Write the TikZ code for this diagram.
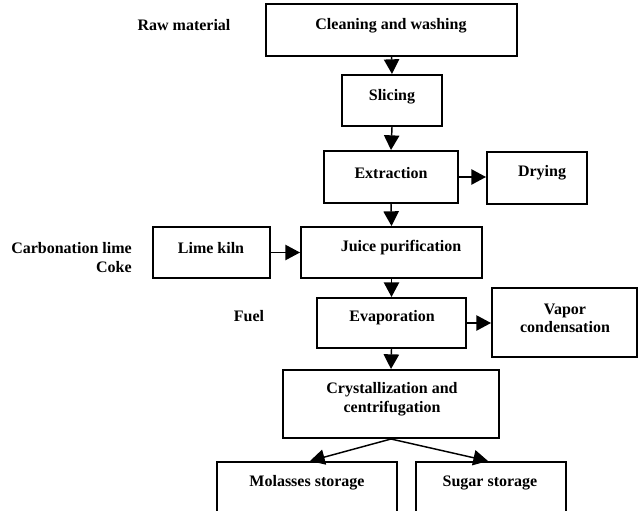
\documentclass[tikz,border=0pt]{standalone}
\usepackage{fontspec}
\setmainfont{Liberation Serif}
\usetikzlibrary{arrows.meta}
\begin{document}
\begin{tikzpicture}[x=0.75pt,y=-0.75pt,
  box/.style={draw,line width=1.5pt,rectangle,inner sep=0pt},
  lbl/.style={font=\fontsize{12}{14}\selectfont\bfseries,inner sep=0pt,align=center},
  arr/.style={line width=1.1pt,-{Triangle[length=11pt,width=11.5pt]}}]
\useasboundingbox (0,0) rectangle (638,510);
\clip (0,0) rectangle (638,510);
% boxes
\node[box,minimum width=251*0.75pt,minimum height=52*0.75pt] (clean) at (391.5,30) {};
\node[box,minimum width=100*0.75pt,minimum height=51*0.75pt] (slice) at (392,100.5) {};
\node[box,minimum width=134*0.75pt,minimum height=52*0.75pt] (extr) at (391,177) {};
\node[box,minimum width=100*0.75pt,minimum height=52*0.75pt] (dry) at (537,178) {};
\node[box,minimum width=181*0.75pt,minimum height=51*0.75pt] (juice) at (391.5,252.5) {};
\node[box,minimum width=117*0.75pt,minimum height=51*0.75pt] (kiln) at (211.5,252.5) {};
\node[box,minimum width=149*0.75pt,minimum height=50*0.75pt] (evap) at (391.5,323) {};
\node[box,minimum width=145*0.75pt,minimum height=69*0.75pt] (vap) at (564.5,322.5) {};
\node[box,minimum width=216*0.75pt,minimum height=68*0.75pt] (cry) at (391,404) {};
\node[box,minimum width=180*0.75pt,minimum height=70*0.75pt] (mol) at (307,497) {};
\node[box,minimum width=150*0.75pt,minimum height=70*0.75pt] (sug) at (491,497) {};
% texts in boxes
\node[lbl] (tclean) at (391,26) {Cleaning and washing};
\node[lbl] (tslice) at (392,97) {Slicing};
\node[lbl] (textr) at (391,173) {Extraction};
\node[lbl] (tdry) at (542,173) {Drying};
\node[lbl] (tjuice) at (401,248) {Juice purification};
\node[lbl] (tkiln) at (211,248) {Lime kiln};
\node[lbl] (tevap) at (392,318) {Evaporation};
\node[lbl] (tvap) at (565,318.5) {Vapor\\condensation};
\node[lbl] (tcry) at (392,399) {Crystallization and\\centrifugation};
\node[lbl] (tmol) at (307,483) {Molasses storage};
\node[lbl] (tsug) at (490,483) {Sugar storage};
% free labels
\node[lbl] (raw) at (184,25) {Raw material};
\node[lbl,align=right,anchor=east] (carb) at (132,257.5) {Carbonation lime\\Coke};
\node[lbl] (fuel) at (249,316) {Fuel};
% arrows
\draw[arr] (clean.south) -- (slice.north);
\draw[arr] (slice.south) -- (extr.north);
\draw[arr] (extr.south) -- (juice.north);
\draw[arr] (juice.south) -- (evap.north);
\draw[arr] (evap.south) -- (cry.north);
\draw[arr] (extr.east) -- (extr.east -| dry.west);
\draw[arr] (kiln.east) -- (juice.west);
\draw[arr] (evap.east) -- (evap.east -| vap.west);
\draw[arr] (cry.south) -- ([xshift=2.25pt]mol.north);
\draw[arr] (cry.south) -- ([xshift=-2.25pt]sug.north);
\end{tikzpicture}
\end{document}
